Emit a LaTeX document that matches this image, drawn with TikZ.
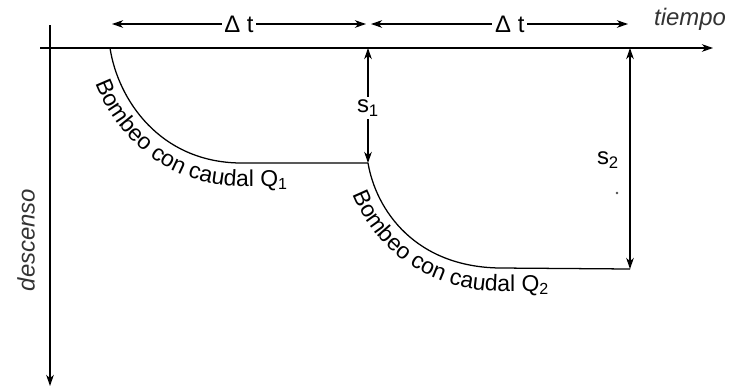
\documentclass[tikz,border=0pt]{standalone}
\usepackage{fontspec}
\setmainfont{Liberation Sans}
\usetikzlibrary{arrows.meta, decorations.text}
\newcommand{\lblfont}{\fontsize{17}{20}\selectfont}
\newcommand{\curvefont}{\fontsize{16.3}{18}\selectfont}

\begin{document}
\begin{tikzpicture}[
  x=0.025cm, y=-0.025cm,
  axis/.style={line width=1.2pt, -{Stealth[length=8pt, width=5.5pt]}},
  dim/.style={line width=1pt, {Stealth[length=8pt, width=5.5pt]}-{Stealth[length=8pt, width=5.5pt]}},
  curve/.style={line width=0.9pt},
  lbl/.style={font=\lblfont, inner sep=2pt},
  gap/.style={lbl, fill=white},
  axlbl/.style={font=\lblfont\itshape, text=black!80}
]
  \useasboundingbox (0,0) rectangle (741,389);

  % Axes
  \coordinate (xa) at (40,48);
  \coordinate (xe) at (713,48);
  \coordinate (ya) at (50,25);
  \coordinate (ye) at (50,386);
  \draw[axis] (xa) -- (xe);
  \draw[axis] (ya) -- (ye);
  \node[axlbl] (tiempo) at (690,19) {tiempo};
  \node[axlbl, rotate=90] (descenso) at (26,240) {descenso};

  % Pumping steps
  \coordinate (t0) at (110,48);
  \coordinate (t1) at (368,48);
  \coordinate (t2) at (630,48);
  \coordinate (c1) at (368,163);
  \coordinate (c2) at (630,269);

  % Drawdown curves
  \draw[curve] (t0) .. controls (118,100) and (160,162) .. (240,163) -- (c1);
  \draw[curve] (c1) .. controls (376,210) and (415,267) .. (500,268) -- (c2);

  % Curve labels (on a baseline just outside each curve)
  \path[decorate, decoration={text along path,
      text align={left indent=26pt},
      text={|\curvefont|Bombeo con caudal Q{\textsubscript{1}}}}]
    (87,48) .. controls (94,112) and (150,186) .. (240,186) -- (368,186);
  \path[decorate, decoration={text along path,
      text align={left indent=23pt},
      text={|\curvefont|Bombeo con caudal Q{\textsubscript{2}}}}]
    (345,163) .. controls (353,222) and (405,291) .. (500,291) -- (630,291);

  % Time steps
  \coordinate (a0) at (112,24);
  \coordinate (a1) at (366,24);
  \coordinate (b1) at (371,24);
  \coordinate (b2) at (628,24);
  \draw[dim] (a0) -- node[gap] (dt1) {Δ t} (a1);
  \draw[dim] (b1) -- node[gap, pos=0.54] (dt2) {Δ t} (b2);

  % Drawdowns
  \draw[dim] (t1) -- node[gap, pos=0.52] (s1) {s\textsubscript{1}} (c1);
  \draw[dim] (t2) -- (c2);
  \node[lbl] (s2) at (608,160) {s\textsubscript{2}};
  \node[circle, fill=black!70, inner sep=0.7pt] (dot) at (617,193) {};
\end{tikzpicture}
\end{document}
